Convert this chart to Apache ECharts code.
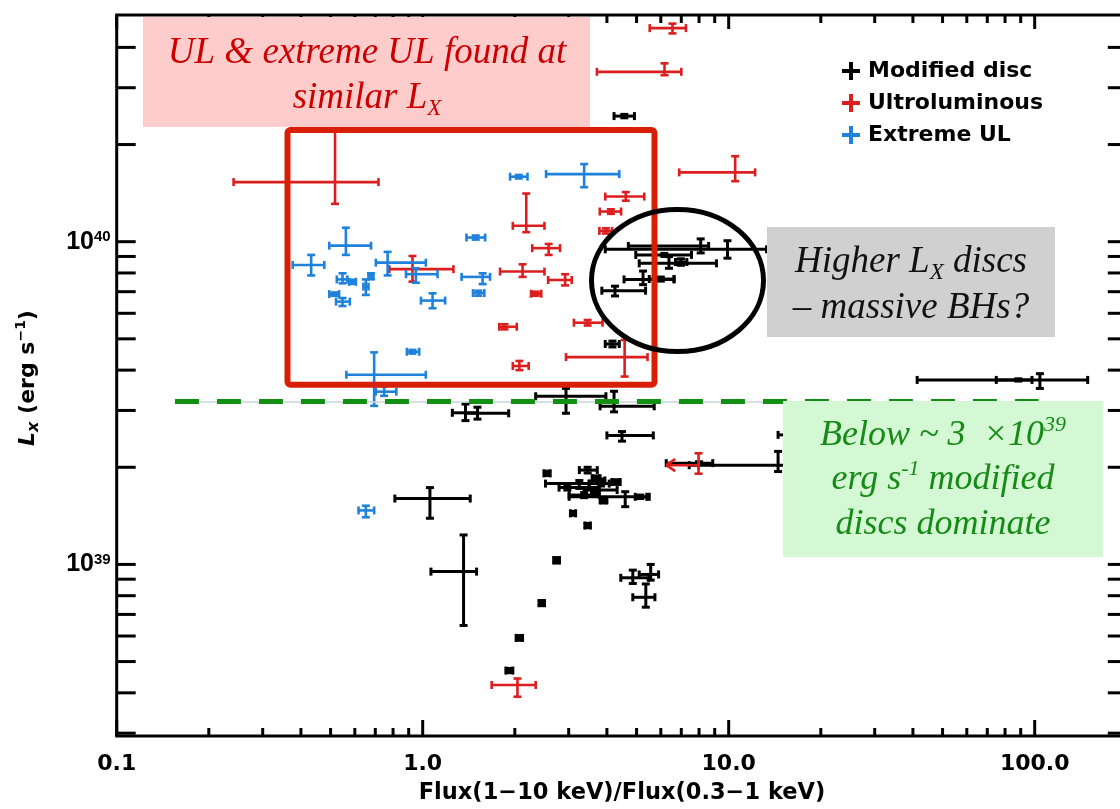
<!DOCTYPE html>
<html><head><meta charset="utf-8">
<script src="https://cdn.jsdelivr.net/npm/echarts@6/dist/echarts.min.js"></script>
<style>html,body{margin:0;padding:0;background:#fff}#c{width:1120px;height:809px}</style>
</head><body><div id="c"></div>
<script>
// ---------- DATA (x = Flux(1-10 keV)/Flux(0.3-1 keV), L in units of 1e39 erg/s) ----------
// Modified disc (black)
const discX   = [4.56, 9.91, 8.1, 6.16, 6.38, 6.98, 5.25, 6.0, 4.25, 4.17, 2.94, 4.22, 4.48, 1.38, 1.51, 1.056, 1.36, 2.74, 2.45, 2.07, 1.92, 2.55, 3.1, 3.46, 3.46, 3.25, 3.69, 3.83, 4.29, 2.97, 3.37, 4.59, 5.14, 3.9, 3.63, 3.84, 4.86, 5.56, 5.36, 88.4, 104, 8.0, 14.5, 16];
const discXlo = [4.22, 3.95, 4.7, 4.97, 5.1, 6.7, 4.55, 5.5, 3.85, 3.95, 2.34, 3.8, 4.0, 1.25, 1.38, 0.811, 1.064, 2.68, 2.4, 2.02, 1.87, 2.49, 3.04, 3.39, 3.25, 2.52, 3.58, 3.5, 4.15, 2.79, 3.01, 3.01, 4.95, 3.8, 3.37, 3.74, 4.44, 5.1, 4.86, 74.9, 41.3, 6.25, 7.43, 14.5];
const discXhi = [4.92, 13.3, 8.6, 7.56, 9.12, 7.3, 6.63, 6.63, 5.35, 4.39, 3.97, 5.71, 5.67, 1.51, 1.91, 1.43, 1.5, 2.8, 2.5, 2.12, 1.97, 2.61, 3.16, 3.53, 3.72, 3.5, 3.8, 4.07, 4.42, 3.78, 3.78, 5.5, 5.4, 4.0, 4.32, 3.94, 5.49, 5.9, 5.74, 98, 149, 8.87, 21.4, 18];
const discL   = [24.5, 9.47, 9.7, 9.1, 8.57, 8.65, 7.64, 7.66, 7.05, 4.82, 3.32, 3.09, 2.51, 2.95, 2.94, 1.6, 0.95, 1.03, 0.759, 0.592, 0.469, 1.915, 1.44, 1.32, 1.96, 1.78, 1.85, 1.78, 1.8, 1.73, 1.64, 1.62, 1.62, 1.58, 1.7, 1.82, 0.909, 0.931, 0.791, 3.73, 3.73, 2.06, 2.03, 2.52];
const discLlo = [24.2, 8.89, 9.23, 9.0, 8.27, 8.45, 7.36, 7.55, 6.79, 4.72, 2.94, 2.97, 2.41, 2.79, 2.82, 1.39, 0.647, 1.01, 0.745, 0.582, 0.462, 1.885, 1.42, 1.30, 1.92, 1.72, 1.82, 1.75, 1.77, 1.7, 1.61, 1.51, 1.6, 1.55, 1.67, 1.8, 0.873, 0.894, 0.737, 3.7, 3.51, 2.04, 1.94, 2.48];
const discLhi = [24.8, 10.07, 10.2, 9.2, 8.99, 8.85, 8.11, 7.77, 7.28, 4.92, 3.51, 3.44, 2.58, 3.14, 3.07, 1.73, 1.234, 1.05, 0.773, 0.602, 0.476, 1.945, 1.46, 1.34, 2.0, 1.82, 1.88, 1.81, 1.83, 1.76, 1.67, 1.68, 1.64, 1.61, 1.73, 1.84, 0.96, 1.0, 0.87, 3.76, 3.9, 2.08, 2.24, 2.56];

// Ultraluminous (red); last point is an upper limit in x (arrow)
const ulX     = [6.55, 6.17, 0.517, 2.18, 4.61, 4.12, 3.97, 2.58, 2.12, 2.92, 2.34, 0.926, 1.85, 2.07, 3.46, 4.57, 10.5, 2.04, 7.97];
const ulXlo   = [5.52, 3.71, 0.241, 1.97, 3.95, 3.79, 3.78, 2.28, 1.79, 2.57, 2.26, 0.778, 1.78, 1.97, 3.12, 2.94, 6.89, 1.68, 6.25];
const ulXhi   = [7.25, 7.0, 0.717, 2.5, 5.3, 4.45, 4.16, 2.81, 2.5, 3.07, 2.44, 1.26, 2.03, 2.22, 3.87, 5.43, 12.2, 2.34, 7.97];
const ulL     = [45.9, 33.6, 15.3, 11.2, 13.8, 12.4, 10.8, 9.55, 8.08, 7.61, 6.9, 8.22, 5.45, 4.12, 5.61, 4.39, 16.4, 0.423, 2.03];
const ulLlo   = [44.2, 32.8, 13.1, 10.7, 13.4, 12.2, 10.6, 9.1, 7.78, 7.32, 6.8, 7.52, 5.35, 4.0, 5.5, 3.82, 15.4, 0.389, 1.91];
const ulLhi   = [47.4, 35.7, 23.9, 14.1, 14.25, 12.6, 11.0, 9.84, 8.51, 7.93, 7.0, 9.03, 5.55, 4.27, 5.72, 4.96, 18.4, 0.443, 2.21];
const ulLimit = [0,0,0,0,0,0,0,0,0,0,0,0,0,0,0,0,0,0,1];

// Extreme UL (blue)
const eulX    = [3.37, 2.06, 1.49, 1.57, 1.52, 0.561, 0.432, 0.768, 0.95, 1.077, 0.547, 0.59, 0.652, 0.678, 0.515, 0.547, 0.926, 0.694, 0.748, 0.652];
const eulXlo  = [2.53, 1.93, 1.39, 1.34, 1.46, 0.495, 0.376, 0.703, 0.882, 0.987, 0.524, 0.575, 0.64, 0.665, 0.495, 0.521, 0.888, 0.563, 0.703, 0.617];
const eulXhi  = [4.39, 2.2, 1.6, 1.66, 1.59, 0.678, 0.477, 1.024, 1.118, 1.184, 0.567, 0.605, 0.665, 0.69, 0.533, 0.578, 0.974, 1.024, 0.82, 0.694];
const eulL    = [16.2, 15.9, 10.3, 7.78, 6.93, 9.72, 8.47, 8.61, 7.93, 6.57, 7.64, 7.51, 7.26, 7.82, 6.88, 6.52, 4.56, 3.87, 3.43, 1.47];
const eulLlo  = [14.75, 15.7, 10.15, 7.39, 6.8, 9.1, 7.86, 7.86, 7.46, 6.22, 7.43, 7.4, 6.84, 7.65, 6.8, 6.32, 4.5, 3.1, 3.33, 1.4];
const eulLhi  = [17.4, 16.1, 10.45, 7.98, 7.05, 11.05, 9.1, 9.3, 8.27, 6.92, 7.98, 7.62, 7.64, 7.98, 6.96, 6.69, 4.62, 4.54, 3.56, 1.52];

// Axis ticks
const X_MAJOR = [0.1, 1, 10, 100];
const X_MINOR = [0.2,0.3,0.4,0.5,0.6,0.7,0.8,0.9, 2,3,4,5,6,7,8,9, 20,30,40,50,60,70,80,90];
const Y_MAJOR = [1e39, 1e40];
const Y_MINOR = [3e38,4e38,5e38,6e38,7e38,8e38,9e38, 2e39,3e39,4e39,5e39,6e39,7e39,8e39,9e39, 2e40,3e40,4e40];
const X_MIN = 0.1, X_MAX = 200, Y_MIN = 2.94e38, Y_MAX = 5.04e40;
const DIVIDE_L = 3.2e39; // dashed threshold line

// ---------- BUILD ----------
const E39 = 1e39;
function rows(x, xlo, xhi, l, llo, lhi, lim) {
  return x.map((v, i) => [v, l[i]*E39, xlo[i], xhi[i], llo[i]*E39, lhi[i]*E39, lim ? lim[i] : 0]);
}
function errRender(color, lw) {
  return function (params, api) {
    const x = api.value(0), y = api.value(1);
    const c = api.coord([x, y]);
    const xl = api.coord([api.value(2), y])[0];
    const xh = api.coord([api.value(3), y])[0];
    const yb = api.coord([x, api.value(4)])[1];
    const yt = api.coord([x, api.value(5)])[1];
    const lim = api.value(6);
    const cap = 4;
    const st = () => ({ stroke: color, lineWidth: lw, fill: null, lineCap: 'butt' });
    const ch = [];
    const L = (x1, y1, x2, y2) => ch.push({ type: 'line', shape: { x1, y1, x2, y2 }, style: st() });
    L(xl, c[1], xh, c[1]);
    L(c[0], yt, c[0], yb);
    L(c[0]-cap, yt, c[0]+cap, yt);
    L(c[0]-cap, yb, c[0]+cap, yb);
    if (lim) {
      L(xl, c[1], xl+9, c[1]-6);
      L(xl, c[1], xl+9, c[1]+6);
    } else {
      L(xl, c[1]-cap, xl, c[1]+cap);
    }
    L(xh, c[1]-cap, xh, c[1]+cap);
    return { type: 'group', children: ch };
  };
}
const tickStyle = () => ({ stroke: '#000', lineWidth: 3, lineCap: 'butt' });
const xTickData = X_MAJOR.map(v => [v, Y_MIN, 1]).concat(X_MINOR.map(v => [v, Y_MIN, 0]));
const yTickData = Y_MAJOR.map(v => [X_MIN, v, 1]).concat(Y_MINOR.map(v => [X_MIN, v, 0]));

const SANS = "'DejaVu Sans', sans-serif";
const LIB = "'Liberation Sans', Arial, sans-serif";
const SERIF = "'Liberation Serif', 'Times New Roman', serif";

function serifRich(color, size) {
  return {
    m: { fontFamily: SERIF, fontStyle: 'italic', fontSize: size, lineHeight: 44, fill: color },
    s: { fontFamily: SERIF, fontStyle: 'italic', fontSize: 23, lineHeight: 23, verticalAlign: 'bottom', fill: color },
    p: { fontFamily: SERIF, fontStyle: 'italic', fontSize: 22, lineHeight: 22, verticalAlign: 'top', fill: color }
  };
}
function txt(x, y, text, color, size) {
  return { type: 'text', z: 110, x, y, style: { text, rich: serifRich(color, size || 36), fill: color, align: 'center', verticalAlign: 'middle' } };
}

const chart = echarts.init(document.getElementById('c'));
chart.setOption({
  animation: false,
  backgroundColor: '#fff',
  grid: { left: 116.7, top: 15, right: -6.8, bottom: 73, show: true, borderColor: '#000', borderWidth: 3, backgroundColor: 'transparent', outerBoundsMode: 'none', containLabel: false },
  xAxis: {
    type: 'log', logBase: 10, min: X_MIN, max: X_MAX,
    axisLine: { show: false }, axisTick: { show: false }, splitLine: { show: false }, minorTick: { show: false },
    axisLabel: {
      margin: 17, color: '#000', fontFamily: SANS, fontWeight: 'bold', fontSize: 22,
      formatter: v => { const l = Math.log10(v); if (Math.abs(l - Math.round(l)) > 1e-6) return ''; return v < 1 ? '0.1' : v.toFixed(1); }
    }
  },
  yAxis: {
    type: 'log', logBase: 10, min: Y_MIN, max: Y_MAX,
    axisLine: { show: false }, axisTick: { show: false }, splitLine: { show: false }, minorTick: { show: false },
    axisLabel: {
      margin: 6, color: '#000',
      formatter: v => { const l = Math.log10(v); const e = Math.round(l); if (Math.abs(l - e) > 1e-6) return ''; return '{b|10}{s|' + e + '}'; },
      rich: {
        b: { fontFamily: LIB, fontWeight: 'bold', fontSize: 25, lineHeight: 25, color: '#000' },
        s: { fontFamily: LIB, fontWeight: 'bold', fontSize: 15, lineHeight: 15, verticalAlign: 'top', color: '#000' }
      }
    }
  },
  legend: {
    orient: 'vertical', left: 837, top: 55, itemWidth: 18, itemHeight: 18, itemGap: 10, selectedMode: false,
    icon: 'path://M7,0H11V7H18V11H11V18H7V11H0V7H7Z',
    textStyle: { fontFamily: SANS, fontWeight: 'bold', fontSize: 22, color: '#000', padding: [0, 0, 0, 3] },
    data: ['Modified disc', 'Ultroluminous', 'Extreme UL']
  },
  series: [
    { type: 'custom', name: 'xticks', silent: true, z: 1, data: xTickData,
      renderItem: (params, api) => {
        const cs = params.coordSys; const px = api.coord([api.value(0), Y_MIN])[0]; const major = api.value(2);
        const B = cs.y + cs.height, T = cs.y;
        return { type: 'group', children: [
          { type: 'line', shape: { x1: px, y1: B, x2: px, y2: B - (major ? 16 : 8) }, style: tickStyle() },
          { type: 'line', shape: { x1: px, y1: T, x2: px, y2: T + (major ? 14 : 8) }, style: tickStyle() }
        ] };
      } },
    { type: 'custom', name: 'yticks', silent: true, z: 1, data: yTickData,
      renderItem: (params, api) => {
        const cs = params.coordSys; const py = api.coord([X_MIN, api.value(1)])[1];
        const Lx = cs.x, R = cs.x + cs.width;
        return { type: 'group', children: [
          { type: 'line', shape: { x1: Lx, y1: py, x2: Lx + 19, y2: py }, style: tickStyle() },
          { type: 'line', shape: { x1: R, y1: py, x2: R - 19, y2: py }, style: tickStyle() }
        ] };
      } },
    { type: 'custom', name: 'Modified disc', z: 3, itemStyle: { color: '#000' },
      data: rows(discX, discXlo, discXhi, discL, discLlo, discLhi), renderItem: errRender('#000', 3) },
    { type: 'custom', name: 'Ultroluminous', z: 4, itemStyle: { color: '#dc1e1e' },
      data: rows(ulX, ulXlo, ulXhi, ulL, ulLlo, ulLhi, ulLimit), renderItem: errRender('#dc1e1e', 2.6) },
    { type: 'custom', name: 'Extreme UL', z: 5, itemStyle: { color: '#1e82dc' },
      data: rows(eulX, eulXlo, eulXhi, eulL, eulLlo, eulLhi), renderItem: errRender('#1e82dc', 2.6) },
    { type: 'line', name: 'threshold', data: [], z: 50, silent: true,
      markLine: { silent: true, symbol: 'none', label: { show: false }, z: 50,
        data: [
          [{ coord: [0.155, DIVIDE_L], lineStyle: { color: '#c9d3de', width: 1.5, type: 'solid' } }, { coord: [103, DIVIDE_L] }],
          [{ coord: [0.155, DIVIDE_L], lineStyle: { color: '#129012', width: 5, type: [24, 18] } }, { coord: [103, DIVIDE_L] }]
        ] } }
  ],
  graphic: { elements: [
    { type: 'rect', z: 100, shape: { x: 143, y: 17, width: 447, height: 110 }, style: { fill: '#ffcccc' } },
    txt(367, 53, '{m|UL & extreme UL found at}', '#cc0000', 37),
    txt(367, 98, '{m|similar L}{s|X}', '#cc0000', 37),
    { type: 'rect', z: 105, shape: { x: 287.5, y: 130, width: 367, height: 254.7, r: 3 }, style: { fill: null, stroke: '#d81e05', lineWidth: 6 } },
    { type: 'ellipse', z: 105, shape: { cx: 677.5, cy: 280.5, rx: 86, ry: 71 }, style: { fill: null, stroke: '#000', lineWidth: 5 } },
    { type: 'rect', z: 100, shape: { x: 767, y: 227, width: 288, height: 110 }, style: { fill: '#d0d0d0' } },
    txt(911, 262, '{m|Higher L}{s|X}{m| discs}', '#111', 37),
    txt(911, 308, '{m|– massive BHs?}', '#111', 37),
    { type: 'rect', z: 100, shape: { x: 783, y: 401, width: 320, height: 156 }, style: { fill: '#d4f8d4' } },
    txt(943, 436, '{m|Below ~ 3  ×10}{p|39}', '#168a16'),
    txt(943, 480, '{m|erg s}{p|-1}{m| modified}', '#168a16'),
    txt(943, 525, '{m|discs dominate}', '#168a16'),
    { type: 'text', z: 110, x: 622, y: 793, style: { text: 'Flux(1−10 keV)/Flux(0.3−1 keV)', fontFamily: SANS, fontWeight: 'bold', fontSize: 22.5, fill: '#000', align: 'center', verticalAlign: 'middle' } },
    { type: 'text', z: 110, x: 28, y: 378, rotation: Math.PI / 2,
      style: { text: '{i|L}{u|x}{m| (erg s}{p|−1}{m|)}', align: 'center', verticalAlign: 'middle',
        rich: {
          i: { fontFamily: SANS, fontWeight: 'bold', fontStyle: 'italic', fontSize: 22, lineHeight: 28, fill: '#000' },
          u: { fontFamily: SANS, fontWeight: 'bold', fontStyle: 'italic', fontSize: 16, lineHeight: 16, verticalAlign: 'bottom', fill: '#000' },
          m: { fontFamily: SANS, fontWeight: 'bold', fontSize: 22, lineHeight: 28, fill: '#000' },
          p: { fontFamily: SANS, fontWeight: 'bold', fontSize: 14, lineHeight: 14, verticalAlign: 'top', fill: '#000' }
        } } }
  ] }
});
</script></body></html>
